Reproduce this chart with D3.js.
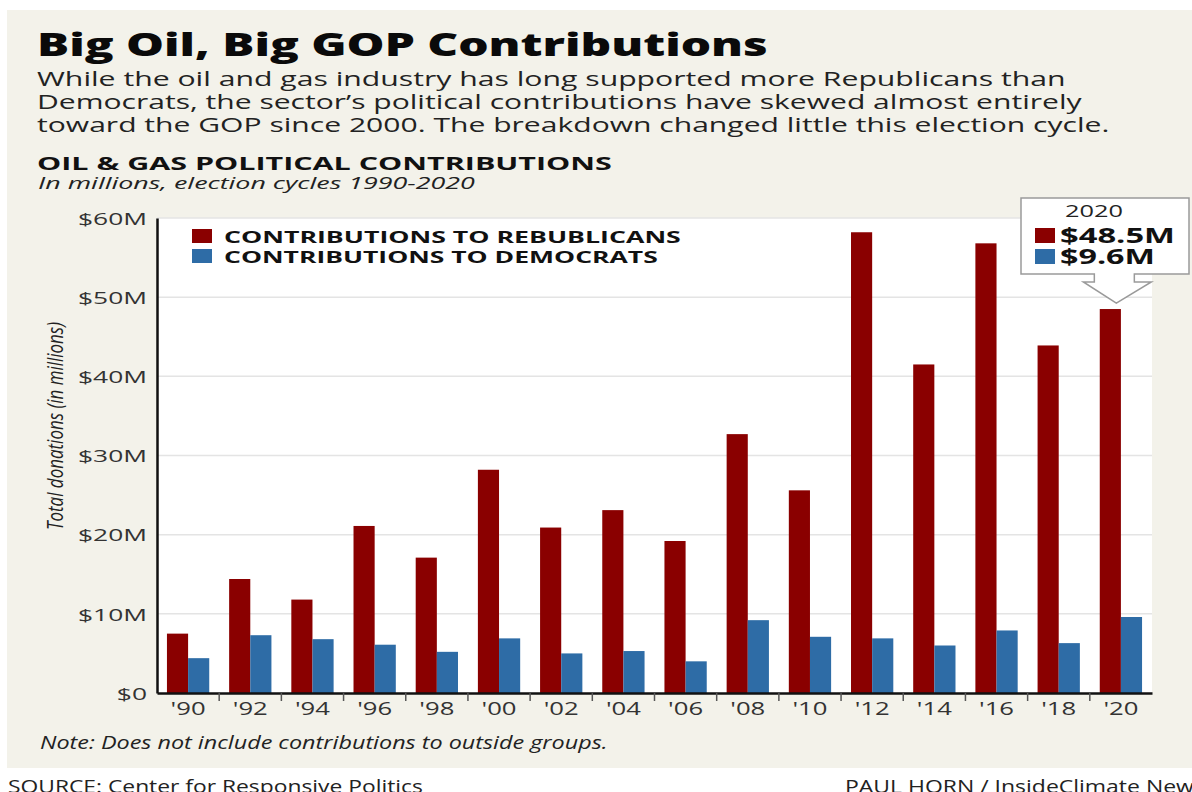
<!DOCTYPE html>
<html>
<head>
<meta charset="utf-8">
<script src="https://cdn.jsdelivr.net/npm/d3@7"></script>
<style>
  html, body { margin: 0; padding: 0; background: #ffffff; }
  svg { display: block; }
  text { font-family: "Open Sans", "Noto Sans", sans-serif; }
</style>
</head>
<body>
<svg id="chart" width="1192" height="792"></svg>
<script>
// ---- Data ----
const cycles = ["'90","'92","'94","'96","'98","'00","'02","'04","'06","'08","'10","'12","'14","'16","'18","'20"];
const republicans = [7.5, 14.4, 11.8, 21.1, 17.1, 28.2, 20.9, 23.1, 19.2, 32.7, 25.6, 58.2, 41.5, 56.8, 43.9, 48.5];
const democrats   = [4.4, 7.3, 6.8, 6.1, 5.2, 6.9, 5.0, 5.3, 4.0, 9.2, 7.1, 6.9, 6.0, 7.9, 6.3, 9.6];
const seriesNames = ["CONTRIBUTIONS TO REBUBLICANS", "CONTRIBUTIONS TO DEMOCRATS"];
const yTicks = [0, 10, 20, 30, 40, 50, 60];
const yTickLabels = ["$0", "$10M", "$20M", "$30M", "$40M", "$50M", "$60M"];
const calloutYear = "2020";
const calloutLabels = ["$48.5M", "$9.6M"];

(function () {
const RED = "#8a0000", BLUE = "#2e6ca6";
const svg = d3.select("#chart");

// text helper: font size from cap height, horizontal scale to match the (wide) lettering
function label(parent, x, y, s, o) {
  const g = parent.append("g");
  const t = g.append("text").attr("font-size", o.fs).attr("fill", o.fill || "#222")
    .attr("text-anchor", o.anchor || "start").text(s);
  if (o.weight) t.attr("font-weight", o.weight);
  if (o.style) t.attr("font-style", o.style);
  const w = t.node().getComputedTextLength();
  const sx = o.w ? o.w / w : (o.sx || 1);
  g.attr("transform", `translate(${x},${y})${o.rot ? " rotate(" + o.rot + ")" : ""} scale(${sx},1)`);
  return g;
}

// beige panel
svg.append("rect").attr("x", 7).attr("y", 10).attr("width", 1192).attr("height", 758).attr("fill", "#f3f2ea");

// Title & subtitle
label(svg, 37, 56, "Big Oil, Big GOP Contributions", { fs: 31, weight: 800, fill: "#0a0a0a", w: 731 });
const sub = [
  ["While the oil and gas industry has long supported more Republicans than", 86, 1029],
  ["Democrats, the sector\u2019s political contributions have skewed almost entirely", 109, 1045],
  ["toward the GOP since 2000. The breakdown changed little this election cycle.", 132, 1073]
];
sub.forEach(([t, yy, w]) => label(svg, 37, yy, t, { fs: 19.5, fill: "#222", w: w }));
label(svg, 37, 170, "OIL & GAS POLITICAL CONTRIBUTIONS", { fs: 17.5, weight: 700, fill: "#111", w: 575 });
label(svg, 38, 189, "In millions, election cycles 1990-2020", { fs: 16, style: "italic", fill: "#222", w: 437 });

// ---- Chart ----
const pl = 157, pr = 1152, pt = 218, pb = 693;
const x = d3.scaleBand().domain(cycles).range([pl, pr]).paddingInner(0).paddingOuter(0);
const xs = d3.scaleBand().domain([0, 1]).range([x.bandwidth() * 0.16, x.bandwidth() * 0.84]);
const y = d3.scaleLinear().domain([0, 60]).range([pb, pt]);

svg.append("rect").attr("x", pl).attr("y", pt).attr("width", pr - pl).attr("height", pb - pt).attr("fill", "#ffffff");

// gridlines
svg.append("g").selectAll("line").data(yTicks.filter(d => d > 0)).join("line")
  .attr("x1", pl).attr("x2", pr).attr("y1", d => y(d)).attr("y2", d => y(d))
  .attr("stroke", "#e4e4e4").attr("stroke-width", 1.5);

// bars
const groups = svg.append("g").selectAll("g").data(cycles).join("g")
  .attr("transform", d => `translate(${x(d)},0)`);
groups.append("rect").attr("x", xs(0)).attr("width", xs.bandwidth())
  .attr("y", (d, i) => y(republicans[i])).attr("height", (d, i) => y(0) - y(republicans[i])).attr("fill", RED);
groups.append("rect").attr("x", xs(1)).attr("width", xs.bandwidth())
  .attr("y", (d, i) => y(democrats[i])).attr("height", (d, i) => y(0) - y(democrats[i])).attr("fill", BLUE);

// y axis
const yAxis = svg.append("g").attr("transform", `translate(${pl},0)`)
  .call(d3.axisLeft(y).tickValues(yTicks).tickFormat((d, i) => yTickLabels[i]).tickSize(0).tickPadding(10));
yAxis.select(".domain").attr("stroke", "#111").attr("stroke-width", 2.5);
const yText = yAxis.selectAll("text").attr("font-size", 16.5).attr("fill", "#333")
  .attr("font-family", "Open Sans").attr("dy", "0.38em");
const ySx = 69 / yText.filter((d, i) => i === yTicks.length - 1).node().getComputedTextLength();
yText.attr("x", -10 / ySx).attr("transform", `scale(${ySx},1)`);

// x axis
const xAxis = svg.append("g").attr("transform", `translate(0,${pb})`)
  .call(d3.axisBottom(x).tickSize(0).tickPadding(9));
xAxis.select(".domain").attr("stroke", "#111").attr("stroke-width", 2.5);
const xText = xAxis.selectAll("text").attr("font-size", 18).attr("fill", "#333")
  .attr("font-family", "Open Sans").attr("dy", "0.72em");
const xSx = 35 / xText.filter((d, i) => i === 0).node().getComputedTextLength();
xText.attr("transform", `scale(${xSx},1)`);
// separator ticks between groups
svg.append("g").selectAll("line").data(cycles.slice(1)).join("line")
  .attr("x1", d => x(d)).attr("x2", d => x(d)).attr("y1", pb).attr("y2", pb + 8)
  .attr("stroke", "#555").attr("stroke-width", 1.5);

// y axis title
label(svg, 63, 426, "Total donations (in millions)", { fs: 21, style: "italic", fill: "#222", anchor: "middle", rot: -90, w: 208 });

// legend
const colors = [RED, BLUE];
seriesNames.forEach((n, i) => {
  const ly = 229 + i * 20;
  svg.append("rect").attr("x", 192).attr("y", ly).attr("width", 20).attr("height", 14).attr("fill", colors[i]);
  label(svg, 224, ly + 14, n, { fs: 16, weight: 700, fill: "#111", w: i === 0 ? 457 : 434 });
});

// callout box with arrow pointing to 2020 red bar
const tipX = x(cycles[cycles.length - 1]) + xs(0) + xs.bandwidth() / 2 + 6;
const tipY = y(republicans[republicans.length - 1]) - 6;
const bx0 = 1021, bx1 = 1189, by0 = 198, by1 = 274;
const path = d3.path();
path.moveTo(bx0, by0);
path.lineTo(bx1, by0);
path.lineTo(bx1, by1);
path.lineTo(tipX + 18, by1);
path.lineTo(tipX + 18, by1 + 8);
path.lineTo(tipX + 35, by1 + 8);
path.lineTo(tipX, tipY);
path.lineTo(tipX - 33, by1 + 8);
path.lineTo(tipX - 22, by1 + 8);
path.lineTo(tipX - 22, by1);
path.lineTo(bx0, by1);
path.closePath();
svg.append("path").attr("d", path.toString()).attr("fill", "#ffffff").attr("stroke", "#9a9a9a").attr("stroke-width", 1.5);

label(svg, 1094, 217, calloutYear, { fs: 17, fill: "#222", anchor: "middle", w: 58 });
calloutLabels.forEach((t, i) => {
  const cy = 228 + i * 21;
  svg.append("rect").attr("x", 1035).attr("y", cy).attr("width", 20).attr("height", 15).attr("fill", colors[i]);
  label(svg, 1060, cy + 15, t, { fs: 21, weight: 700, fill: "#111", w: i === 0 ? 115 : 95 });
});

// note & credits
label(svg, 40, 749, "Note: Does not include contributions to outside groups.", { fs: 17.5, style: "italic", fill: "#222", w: 568 });
label(svg, 8, 793, "SOURCE: Center for Responsive Politics", { fs: 18, fill: "#222", w: 415 });
label(svg, 845, 793, "PAUL HORN / InsideClimate News", { fs: 18, fill: "#222", w: 360 });
})();
</script>
</body>
</html>
